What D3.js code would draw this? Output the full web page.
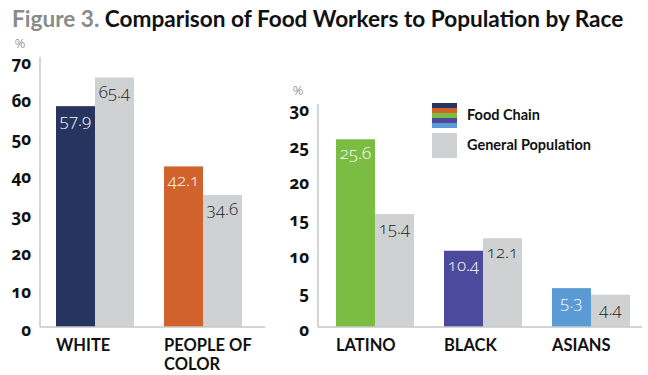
<!DOCTYPE html>
<html>
<head>
<meta charset="utf-8">
<script src="https://cdn.jsdelivr.net/npm/d3@7"></script>
<style>
  body { margin: 0; background: #fff; }
  text { font-family: "Open Sans", sans-serif; }
  .num { font-variant-numeric: oldstyle-nums; font-feature-settings: "onum"; }
</style>
</head>
<body>
<div id="chart"></div>
<script>
// data
const leftCategories = ["WHITE", "PEOPLE OF COLOR"];
const leftFood = [57.9, 42.1];
const leftGeneral = [65.4, 34.6];
const leftTicks = [0, 10, 20, 30, 40, 50, 60, 70];

const rightCategories = ["LATINO", "BLACK", "ASIANS"];
const rightFood = [25.6, 10.4, 5.3];
const rightGeneral = [15.4, 12.1, 4.4];
const rightTicks = [0, 5, 10, 15, 20, 25, 30];

const legendLabels = ["Food Chain", "General Population"];

// colours
const leftColors = ["#26345f", "#d2622b"];
const rightColors = ["#7bbd43", "#4b4a9c", "#5b9bd5"];
const gray = "#d0d1d3";
const axisColor = "#c6c7c9";

const svg = d3.select("#chart").append("svg")
    .attr("width", 648)
    .attr("height", 375);

// title
const title = svg.append("text")
    .attr("x", 12)
    .attr("y", 27)
    .style("font-family", "Lato, sans-serif")
    .style("font-weight", "bold")
    .style("font-size", "22.6px");
title.append("tspan").attr("fill", "#8a8a8a").text("Figure 3. ");
title.append("tspan").attr("fill", "#111").text("Comparison of Food Workers to Population by Race");

function panel(cats, food, general, ticks, colors, xRange, yMax, yTop, axisX, axisEnd) {
    const baseY = 327;
    const x = d3.scaleBand().domain(cats).range(xRange).paddingInner(30 / 108).paddingOuter(0);
    const xs = d3.scaleBand().domain(["food", "general"]).range([0, x.bandwidth()]);
    const y = d3.scaleLinear().domain([0, yMax]).range([baseY, yTop]);

    const rows = cats.map((c, i) => ({cat: c, food: food[i], general: general[i], color: colors[i]}));

    // axis labels
    const ax = svg.append("g")
        .attr("transform", `translate(${axisX},0)`)
        .call(d3.axisLeft(y).tickValues(ticks).tickSize(0).tickPadding(9));
    ax.select(".domain").remove();
    ax.selectAll("text")
        .attr("class", "num")
        .attr("dy", "0.5em")
        .style("font-family", "'Open Sans', sans-serif")
        .style("font-weight", "bold")
        .style("font-size", "17px")
        .attr("fill", "#111");

    // % sign
    svg.append("text")
        .attr("x", axisX - 20)
        .attr("y", y(yMax) - 12)
        .attr("text-anchor", "middle")
        .style("font-size", "13px")
        .style("font-weight", "300")
        .attr("fill", "#666")
        .text("%");

    const g = svg.append("g");
    g.selectAll(".food").data(rows).join("rect")
        .attr("x", d => x(d.cat) + xs("food"))
        .attr("width", xs.bandwidth())
        .attr("y", d => y(d.food))
        .attr("height", d => baseY - y(d.food))
        .attr("fill", d => d.color);
    g.selectAll(".gen").data(rows).join("rect")
        .attr("x", d => x(d.cat) + xs("general"))
        .attr("width", xs.bandwidth())
        .attr("y", d => y(d.general))
        .attr("height", d => baseY - y(d.general))
        .attr("fill", gray);

    // value labels
    g.selectAll(".vf").data(rows).join("text")
        .attr("class", "num")
        .attr("x", d => x(d.cat) + xs("food") + xs.bandwidth() / 2)
        .attr("y", d => y(d.food) + 20)
        .attr("text-anchor", "middle")
        .style("font-size", "17px")
        .style("font-weight", "300")
        .attr("fill", "#fff")
        .text(d => d.food.toFixed(1));
    g.selectAll(".vg").data(rows).join("text")
        .attr("class", "num")
        .attr("x", d => x(d.cat) + xs("general") + xs.bandwidth() / 2)
        .attr("y", d => y(d.general) + 20)
        .attr("text-anchor", "middle")
        .style("font-size", "17px")
        .style("font-weight", "300")
        .attr("fill", "#222")
        .text(d => d.general.toFixed(1));

    // axis lines
    svg.append("line")
        .attr("x1", axisX).attr("x2", axisX)
        .attr("y1", y(yMax) - 3).attr("y2", baseY)
        .attr("stroke", axisColor).attr("stroke-width", 1.5);
    svg.append("line")
        .attr("x1", axisX).attr("x2", axisEnd)
        .attr("y1", baseY).attr("y2", baseY)
        .attr("stroke", axisColor).attr("stroke-width", 1.5);

    // category labels, "PEOPLE OF COLOR" wraps onto two lines
    const lines = [];
    rows.forEach(d => {
        const words = d.cat === "PEOPLE OF COLOR" ? ["PEOPLE OF", "COLOR"] : [d.cat];
        words.forEach((w, i) => lines.push({cat: d.cat, text: w, line: i}));
    });
    svg.append("g").selectAll("text").data(lines).join("text")
        .attr("x", d => x(d.cat))
        .attr("y", d => 350.5 + d.line * 19.5)
        .style("font-family", "Lato, sans-serif")
        .style("font-weight", "bold")
        .style("font-size", "16.5px")
        .attr("fill", "#111")
        .text(d => d.text);
}

panel(leftCategories, leftFood, leftGeneral, leftTicks, leftColors, [56, 242], 70, 60, 40, 265);
panel(rightCategories, rightFood, rightGeneral, rightTicks, rightColors, [336, 630], 30, 107, 318, 642);

// legend
const lg = svg.append("g");
const stripe = d3.scaleBand().domain(d3.range(5)).range([103, 128]);
const stripeColors = [leftColors[0], leftColors[1], rightColors[0], rightColors[1], rightColors[2]];
lg.selectAll(".stripe").data(stripeColors).join("rect")
    .attr("x", 432).attr("width", 25)
    .attr("y", (d, i) => stripe(i)).attr("height", stripe.bandwidth())
    .attr("fill", d => d);
lg.append("rect")
    .attr("x", 432).attr("width", 25)
    .attr("y", 133).attr("height", 25)
    .attr("fill", gray);
lg.selectAll(".lt").data(legendLabels).join("text")
    .attr("x", 467)
    .attr("y", (d, i) => 120 + i * 30)
    .style("font-family", "Lato, sans-serif")
    .style("font-weight", "bold")
    .style("font-size", "14.5px")
    .attr("fill", "#111")
    .text(d => d);
</script>
</body>
</html>
